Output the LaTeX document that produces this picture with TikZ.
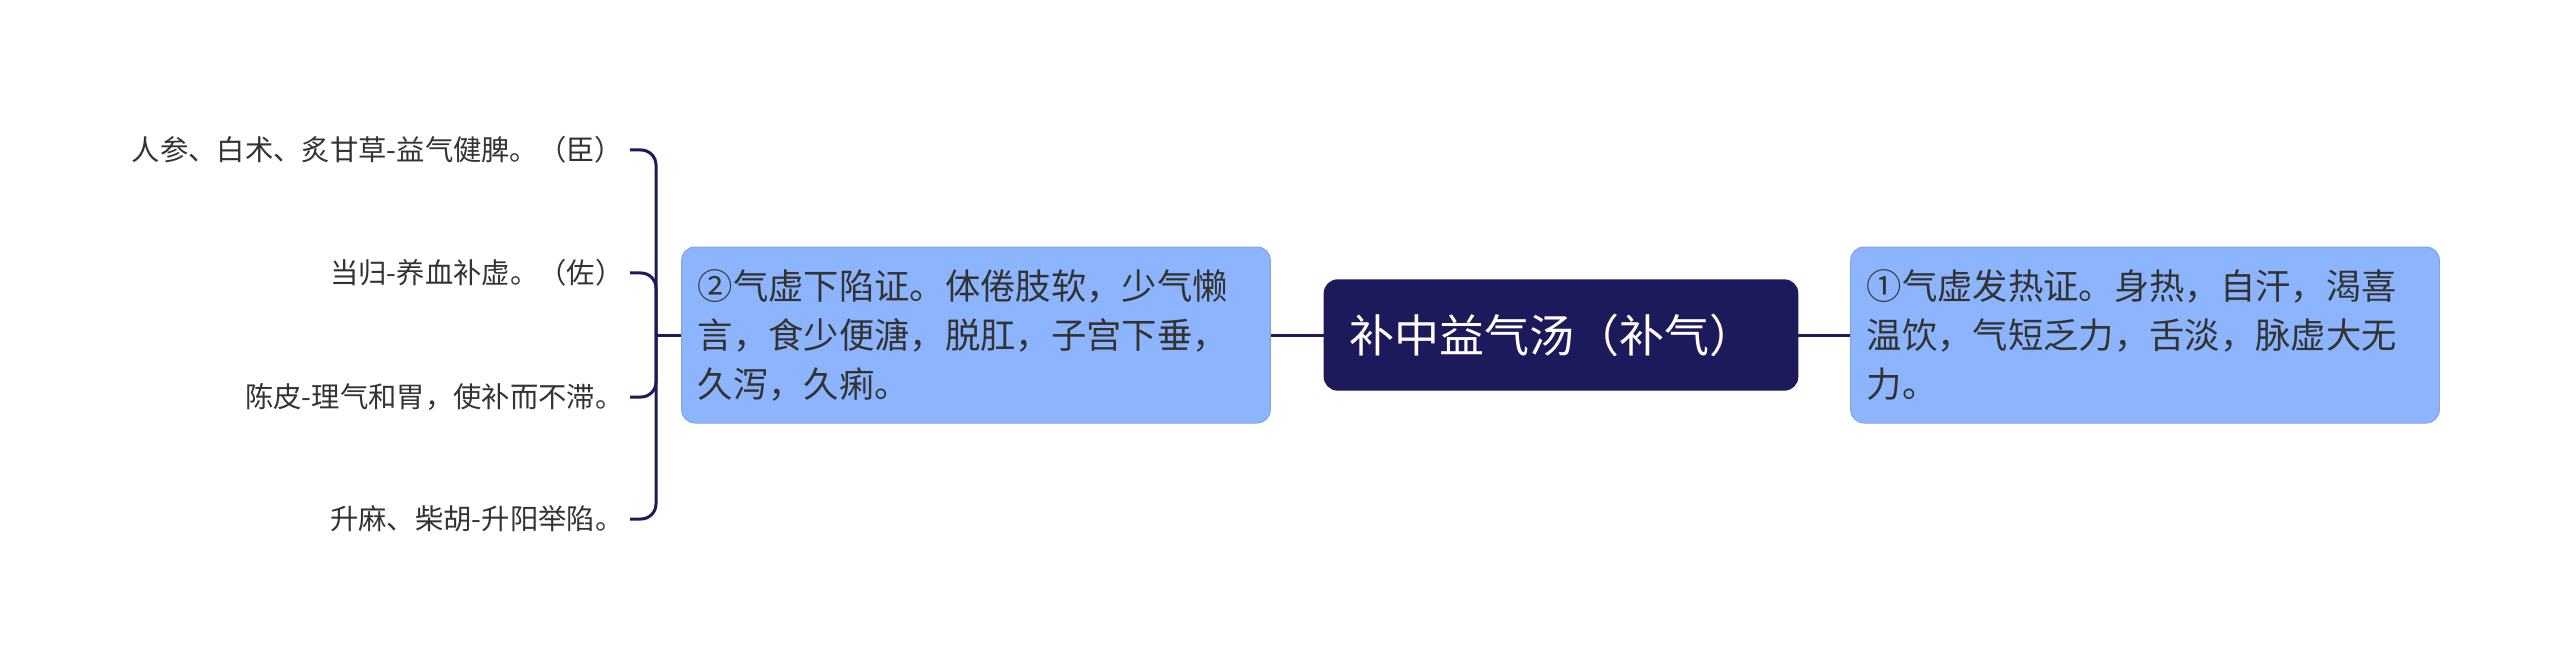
\documentclass[tikz,border=0pt]{standalone}
\usepackage{fontspec}
\setmainfont{Noto Sans CJK SC}
\usepackage{tikz}
\usetikzlibrary{positioning}
\usetikzlibrary{calc}

\definecolor{navy}{RGB}{28,26,90}
\definecolor{boxblue}{RGB}{141,181,253}
\definecolor{txtgray}{RGB}{51,51,51}

\tikzset{
  root/.style={fill=navy, draw=navy, rounded corners=4pt, text=white, align=left,
    text width=127pt, minimum height=33pt, inner xsep=7.5pt,
    font=\fontsize{13.5}{16}\selectfont},
  topic/.style={fill=boxblue, draw=boxblue!90!black, line width=0.3pt, rounded corners=4pt,
    text=txtgray, align=left, text width=167pt, minimum height=52.8pt, inner xsep=4.8pt,
    font=\fontsize{10.6}{14.7}\selectfont},
  leaf/.style={text=txtgray, anchor=east, inner xsep=1.8pt, inner ysep=0pt,
    font=\fontsize{8.5}{10}\selectfont},
  link/.style={draw=navy, line width=0.9pt}
}

\begin{document}
\begin{tikzpicture}[x=0.3pt, y=-0.3pt]
\useasboundingbox (0,0) rectangle (2560,670);

 \node[root] (main) at (1561,335) {补中益气汤（补气）};
 \node[topic] (left) at (976,335) {②气虚下陷证。体倦肢软，少气懒\\言，食少便溏，脱肛，子宫下垂，\\久泻，久痢。};
 \node[topic] (right) at (2145,335) {①气虚发热证。身热，自汗，渴喜\\温饮，气短乏力，舌淡，脉虚大无\\力。};

 %leaves
 \foreach \y/\name/\txt in {150/l1/人参、白术、炙甘草-益气健脾。（臣）, 273/l2/当归-养血补虚。（佐）,
                             397/l3/陈皮-理气和胃，使补而不滞。, 519/l4/升麻、柴胡-升阳举陷。} {
         \node[leaf] (\name) at (630,\y) {\txt};
 }

 \coordinate (fork) at (656,335);

 % lines
 \draw[link] (main) -- (left);
 \draw[link] (main) -- (right);
 \draw[link] (fork) -- (left);
 \foreach \name in {l1,l2,l3,l4}
 	\draw[link, rounded corners=4.5pt] (fork) |- (\name.east);

\end{tikzpicture}
\end{document}
